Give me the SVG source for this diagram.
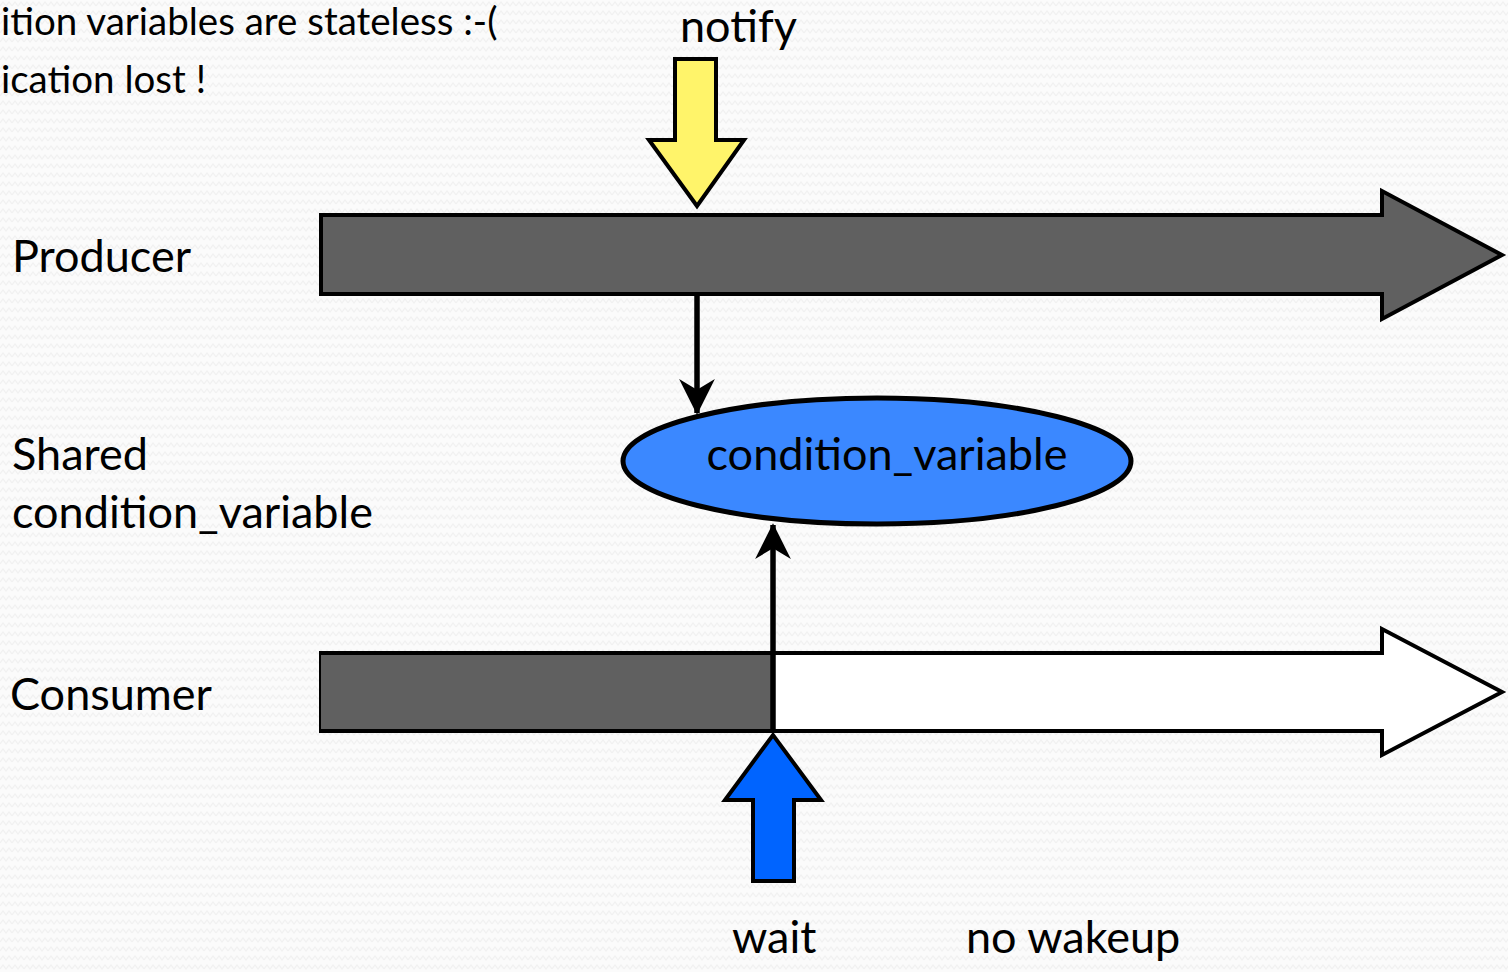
<svg xmlns="http://www.w3.org/2000/svg" width="1508" height="972" viewBox="0 0 1508 972">
  <style>
    .lbl { font-family: Lato, "Open Sans", "DejaVu Sans", sans-serif; font-size: 45px; fill: #000; }
    .head { font-size: 38.5px; }
    .bar { stroke: #000; stroke-width: 4; stroke-linejoin: miter; }
    .conn { stroke: #000; stroke-width: 5.5; fill: none; }
  </style>
  <defs>
    <!-- faint zigzag paper texture -->
    <pattern id="paper" width="12" height="9" patternUnits="userSpaceOnUse">
      <rect width="12" height="9" fill="#fbfbfb"/>
      <path d="M0 6 L3 2 L6 6 L9 2 L12 6" fill="none" stroke="#f1f1f1" stroke-width="1.2"/>
    </pattern>
    <marker id="head" viewBox="0 0 10 10" refX="9.5" refY="5" markerWidth="6.5" markerHeight="6.5" markerUnits="strokeWidth" orient="auto">
      <path d="M0 0 L10 5 L0 10 L3 5 Z" fill="#000"/>
    </marker>
  </defs>

  <rect width="1508" height="972" fill="url(#paper)"/>

  <!-- heading lines (partly outside the page on the left) -->
  <g id="heading">
    <text class="lbl head" x="1" y="35">ition variables are stateless :-(</text>
    <text class="lbl head" x="1" y="93">ication lost !</text>
  </g>

  <!-- row labels -->
  <g id="labels">
    <text class="lbl" x="12" y="272">Producer</text>
    <text class="lbl" x="12" y="470">Shared</text>
    <text class="lbl" x="12" y="528">condition_variable</text>
    <text class="lbl" x="10" y="710">Consumer</text>
  </g>

  <!-- producer timeline -->
  <g id="producer">
    <path class="bar" fill="#606060" d="M321 215 H1382 V191 L1502 255 L1382 319 V294 H321 Z"/>
  </g>

  <!-- consumer timeline: blocked part (grey) then idle part (white) -->
  <g id="consumer">
    <path class="bar" fill="#ffffff" d="M321 653 H1382 V629 L1502 692 L1382 755 V731 H321 Z"/>
    <rect x="321" y="655" width="452" height="74" fill="#606060"/>
  </g>

  <!-- shared condition variable -->
  <g id="cv">
    <ellipse cx="877" cy="461" rx="254" ry="63" fill="#3b88ff" stroke="#000" stroke-width="5"/>
    <text class="lbl" x="887" y="470" text-anchor="middle">condition_variable</text>
  </g>

  <!-- notify event -->
  <g id="notify">
    <text class="lbl" x="680" y="42">notify</text>
    <path d="M675 59 H716 V140 H744 L697 206 L649 140 H675 Z" fill="#fff46a" stroke="#000" stroke-width="4"/>
  </g>

  <!-- wait event -->
  <g id="wait">
    <path d="M753 881 H794 V800 H821 L773 735 L725 800 H753 Z" fill="#0064ff" stroke="#000" stroke-width="4"/>
    <text class="lbl" x="732" y="953">wait</text>
  </g>

  <g id="nowakeup">
    <text class="lbl" x="966" y="953">no wakeup</text>
  </g>

  <!-- connectors -->
  <g id="connectors">
    <line class="conn" x1="697" y1="296" x2="697" y2="413" marker-end="url(#head)"/>
    <line class="conn" x1="773" y1="731" x2="773" y2="525" marker-end="url(#head)"/>
  </g>
</svg>
